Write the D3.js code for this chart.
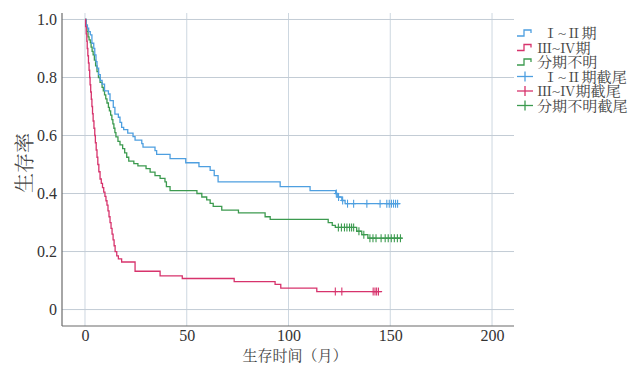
<!DOCTYPE html>
<html><head><meta charset="utf-8">
<script src="https://cdn.jsdelivr.net/npm/d3@7"></script>
<style>
html,body{margin:0;padding:0;background:#fff;}
svg{display:block;}
</style></head>
<body><svg id="c" width="643" height="366"></svg>
<script>
// ---- data ----
const groups = ["Ⅰ~Ⅱ期", "Ⅲ~Ⅳ期", "分期不明"];
const censorLabels = ["Ⅰ~Ⅱ期截尾", "Ⅲ~Ⅳ期截尾", "分期不明截尾"];
const xTicks = [0, 50, 100, 150, 200];
const yTicks = [0, 0.2, 0.4, 0.6, 0.8, 1.0];

const timesA = [0,0.6,1.2,1.8,2.6,3.4,4.3,4.8,5.4,5.9,6.7,7.5,8.4,9.6,11.5,12.3,13.9,14.7,16.4,17.2,18.0,19.0,21.0,23.6,24.6,27.9,28.5,34.4,35.2,41.8,49.5,56,61.5,63.5,65.4,95.9,110.6,123.2,124.2,126.2,127.8,155];
const survA  = [1,0.98,0.97,0.958,0.947,0.918,0.9,0.878,0.855,0.832,0.81,0.79,0.777,0.754,0.743,0.72,0.697,0.674,0.663,0.645,0.628,0.62,0.608,0.596,0.584,0.572,0.56,0.548,0.535,0.52,0.506,0.493,0.48,0.462,0.44,0.424,0.41,0.40,0.388,0.376,0.365,0.365];
const censorA = [123.5,124.6,126.6,129,132,138.5,145,148.3,149.5,150.6,151.6,152.6,153.6];

const timesB = [0,0.3,0.6,0.9,1.1,1.4,1.7,2.0,2.3,2.5,2.8,3.1,3.4,3.7,4.0,4.4,4.8,5.1,5.5,5.9,6.3,6.8,7.4,8.0,8.6,9.2,9.8,10.3,10.8,11.3,11.8,12.3,12.8,13.3,13.8,14.3,14.8,15.6,16.4,18.0,24.6,36.9,47.8,73.3,93.4,96.2,113.9,146];
const survB  = [1,0.975,0.95,0.925,0.9,0.875,0.85,0.825,0.8,0.775,0.75,0.725,0.7,0.675,0.65,0.625,0.6,0.575,0.55,0.525,0.5,0.475,0.45,0.435,0.42,0.405,0.39,0.375,0.36,0.34,0.32,0.3,0.28,0.26,0.24,0.22,0.2,0.185,0.175,0.164,0.132,0.116,0.107,0.096,0.087,0.074,0.062,0.062];
const censorB = [123,126.2,141.6,142.5,143.3,144.2];

const timesC = [0,0.5,1.0,1.5,2.0,2.6,3.0,3.5,4.0,4.6,5.2,5.9,6.6,7.4,8.4,9.0,9.6,10.2,10.8,11.5,12.0,12.6,13.2,13.7,14.2,14.7,15.2,16.2,17.2,18.5,19.5,20.5,21.5,24,26,30,32,34.4,36.9,39.3,40,41.8,55,57.4,59.8,61.5,63,67.2,75.4,88.5,91,119.5,121.5,123.0,133.5,136,139,156];
const survC  = [1,0.98,0.958,0.94,0.93,0.92,0.905,0.89,0.878,0.86,0.84,0.82,0.8,0.783,0.766,0.754,0.74,0.726,0.712,0.697,0.685,0.67,0.655,0.64,0.625,0.61,0.595,0.58,0.568,0.555,0.54,0.525,0.512,0.503,0.495,0.486,0.474,0.462,0.452,0.44,0.424,0.41,0.4,0.388,0.378,0.366,0.356,0.343,0.333,0.32,0.311,0.30,0.29,0.283,0.27,0.258,0.246,0.246];
const censorC = [124.5,126,127.5,128.7,130,131,132,134.6,137,140,141.5,143,145.5,147.5,149,150.5,152,153.5,155];

const colors = ["#4e9fe0", "#d7336c", "#3c9a4f"];

// ---- chart ----
const svg = d3.select("#c");
const pL = 62, pR = 514, pT = 13, pB = 326;
const x = d3.scaleLinear().domain([-11.3, 210.8]).range([pL, pR]);
const y = d3.scaleLinear().domain([-0.0567, 1.0223]).range([pB, pT]);

const grid = svg.append("g");
grid.selectAll("line.v").data(xTicks).join("line")
  .attr("x1", d => x(d)).attr("x2", d => x(d)).attr("y1", pT).attr("y2", pB)
  .attr("stroke", "#cdd7e0").attr("stroke-width", 1);
grid.selectAll("line.h").data(yTicks).join("line")
  .attr("x1", pL).attr("x2", pR).attr("y1", d => y(d)).attr("y2", d => y(d))
  .attr("stroke", "#c3ccd5").attr("stroke-width", 1);

// axes
const xAxis = d3.axisBottom(x).tickValues(xTicks).tickSize(0).tickPadding(4).tickFormat(d3.format("d"));
const yAxis = d3.axisLeft(y).tickValues(yTicks).tickSize(0).tickPadding(5).tickFormat(d => d === 0 ? "0" : d3.format(".1f")(d));
const gx = svg.append("g").attr("transform", `translate(0,${pB})`).call(xAxis);
const gy = svg.append("g").attr("transform", `translate(${pL},0)`).call(yAxis);
[gx, gy].forEach(g => {
  g.select(".domain").attr("stroke", "#6b6b6b").attr("stroke-width", 1.2);
  g.selectAll("text").attr("font-family", "'Liberation Serif', serif").attr("font-size", 16).attr("fill", "#333");
});
gx.select(".domain").attr("d", `M${pL},0H${pR}`);
gy.select(".domain").attr("d", `M0,${pT}V${pB}`);

svg.append("text").attr("x", 295).attr("y", 361).attr("text-anchor", "middle")
  .attr("font-family", "'Noto Serif CJK SC','Noto Sans CJK SC',serif").attr("font-size", 15).attr("fill", "#444")
  .text("生存时间（月）");
svg.append("text").attr("transform", "translate(32,163) rotate(-90)").attr("text-anchor", "middle")
  .attr("font-family", "'Noto Serif CJK SC','Noto Sans CJK SC',serif").attr("font-size", 20).attr("fill", "#444")
  .text("生存率");

// curves
const line = d3.line().x(d => x(d[0])).y(d => y(d[1])).curve(d3.curveStepAfter);
const series = [
  {t: timesA, s: survA, c: censorA},
  {t: timesB, s: survB, c: censorB},
  {t: timesC, s: survC, c: censorC}
];
function survAt(sr, t) {
  let v = sr.s[0];
  for (let i = 0; i < sr.t.length; i++) { if (sr.t[i] <= t) v = sr.s[i]; }
  return v;
}
[2, 0, 1].forEach(i => {
  const sr = series[i];
  svg.append("path").datum(sr.t.map((t, k) => [t, sr.s[k]]))
    .attr("d", line).attr("fill", "none").attr("stroke", colors[i]).attr("stroke-width", 1.3);
});
[0, 1, 2].forEach(i => {
  const sr = series[i];
  const g = svg.append("g").attr("stroke", colors[i]).attr("stroke-width", 1.1);
  sr.c.forEach(t => {
    const cx = x(t), cy = y(survAt(sr, t));
    g.append("line").attr("x1", cx).attr("x2", cx).attr("y1", cy - 4).attr("y2", cy + 4);
    g.append("line").attr("x1", cx - 2.5).attr("x2", cx + 2.5).attr("y1", cy).attr("y2", cy);
  });
});

// legend
const lg = svg.append("g");
const rowY = i => 33 + i * 14.5;
const legFont = "'Liberation Serif','Noto Serif CJK SC','Noto Sans CJK SC',serif";
function legText(txt, i, yy) {
  lg.append("text").attr("transform", `translate(${i === 0 ? 543 : 537},${yy + 5}) scale(1.12,1)`)
    .attr("font-family", legFont).attr("font-size", 13.5).attr("fill", "#444").text(txt);
}
groups.forEach((g, i) => {
  const yy = rowY(i);
  lg.append("path").attr("d", `M517,${yy + 3}H524V${yy - 3}H531V${yy}`)
    .attr("fill", "none").attr("stroke", colors[i]).attr("stroke-width", 1.3);
  legText(g, i, yy);
});
censorLabels.forEach((g, i) => {
  const yy = rowY(i + 3);
  lg.append("line").attr("x1", 517).attr("x2", 533).attr("y1", yy).attr("y2", yy)
    .attr("stroke", colors[i]).attr("stroke-width", 1.3);
  lg.append("line").attr("x1", 525).attr("x2", 525).attr("y1", yy - 5).attr("y2", yy + 5)
    .attr("stroke", colors[i]).attr("stroke-width", 1.3);
  legText(g, i, yy);
});
</script></body></html>
